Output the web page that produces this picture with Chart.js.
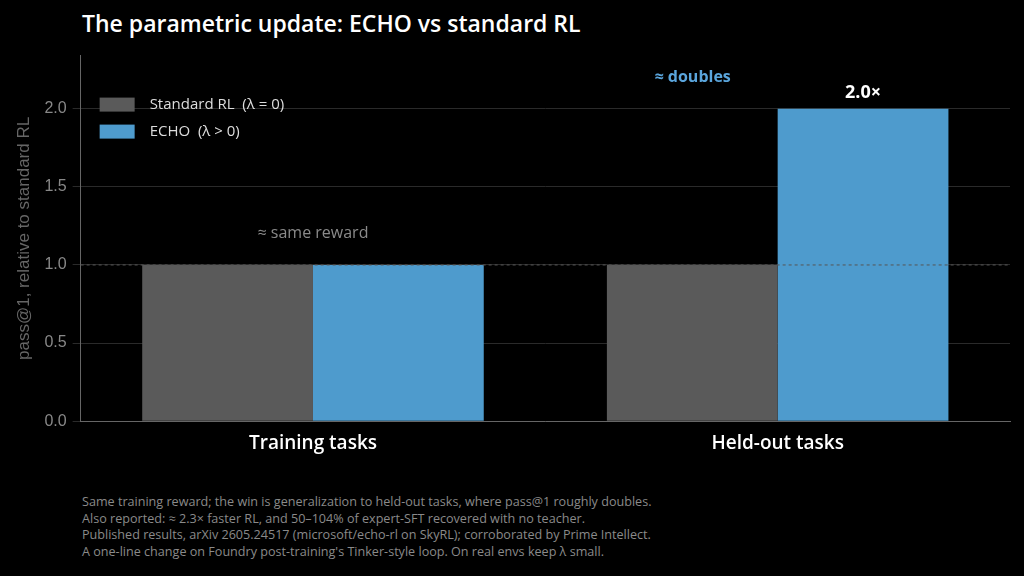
<!DOCTYPE html>
<html><head><meta charset="utf-8">
<script src="https://cdn.jsdelivr.net/npm/chart.js@4/dist/chart.umd.min.js"></script>
<style>html,body{margin:0;background:#000;width:1024px;height:576px;overflow:hidden;font-family:"Open Sans",sans-serif}
#t{position:absolute;left:82px;top:7px;color:#fff;font-size:23px;font-weight:600}
#f{position:absolute;left:82px;top:494px;color:#8a8a8a;font-size:12.6px;line-height:16.7px}
#w{position:absolute;left:0;top:40px;width:1024px;height:418px}</style></head>
<body><div id="t">The parametric update: ECHO vs standard RL</div>
<div id="w"><canvas id="c"></canvas></div>
<div id="f">Same training reward; the win is generalization to held-out tasks, where pass@1 roughly doubles.<br>Also reported: ≈ 2.3× faster RL, and 50–104% of expert-SFT recovered with no teacher.<br>Published results, arXiv 2605.24517 (microsoft/echo-rl on SkyRL); corroborated by Prime Intellect.<br>A one-line change on Foundry post-training's Tinker-style loop. On real envs keep λ small.</div>
<script>
const categories=["Training tasks","Held-out tasks"];
const standardRL=[1.0,1.0];
const echo=[1.0,2.0];
const yTicks=[0,0.5,1.0,1.5,2.0];
const notes={train:"≈ same reward",held:"≈ doubles",mult:"2.0×"};
const annot={id:"annot",afterDatasetsDraw(ch){const c=ch.ctx,x=ch.scales.x,y=ch.scales.y,a=ch.chartArea;
 c.save();c.strokeStyle="#555";c.setLineDash([3,3]);c.lineWidth=1;c.beginPath();c.moveTo(a.left,y.getPixelForValue(1));c.lineTo(a.right,y.getPixelForValue(1));c.stroke();c.setLineDash([]);
 c.textAlign="center";c.textBaseline="middle";
 c.fillStyle="#8a8a8a";c.font="16px 'Open Sans'";c.fillText(notes.train,x.getPixelForValue(0),y.getPixelForValue(1.2));
 c.fillStyle="#5aa5dc";c.font="bold 16px 'Open Sans'";c.fillText(notes.held,x.getPixelForValue(1)-85,y.getPixelForValue(2.2));
 const m=ch.getDatasetMeta(1).data[1];c.fillStyle="#fff";c.font="bold 18px 'Open Sans'";c.fillText(notes.mult,m.x,y.getPixelForValue(2.1));
 c.textAlign="left";c.font="15px 'Open Sans'";
 ch.data.datasets.forEach((d,i)=>{const yy=a.top+49+i*27;c.fillStyle=d.backgroundColor;c.fillRect(a.left+19,yy-7,35,14);c.fillStyle="#ddd";c.fillText(d.label,a.left+69,yy);});
 c.restore();}};
new Chart(document.getElementById("c"),{type:"bar",data:{labels:categories,datasets:[
 {label:"Standard RL  (λ = 0)",data:standardRL,backgroundColor:"#5a5a5a"},
 {label:"ECHO  (λ > 0)",data:echo,backgroundColor:"#4e9bcd"}]},
 options:{responsive:true,maintainAspectRatio:false,animation:false,
 layout:{padding:{left:10,right:14,top:12,bottom:0}},
 datasets:{bar:{categoryPercentage:0.735,barPercentage:1}},
 plugins:{legend:{display:false},tooltip:{enabled:false}},
 scales:{x:{grid:{display:false},border:{color:"#666"},ticks:{color:"#fff",font:{size:19,weight:600,family:"Open Sans"}}},
 y:{min:0,max:2.34,afterBuildTicks(a){a.ticks=yTicks.map(v=>({value:v}));},grid:{color:"#2a2a2a"},border:{color:"#666"},
 ticks:{color:"#888",font:{size:16}, padding:6,callback:v=>v.toFixed(1)},
 title:{display:true,text:"pass@1, relative to standard RL",color:"#666",font:{size:17}}}}},
 plugins:[annot]});
</script></body></html>
